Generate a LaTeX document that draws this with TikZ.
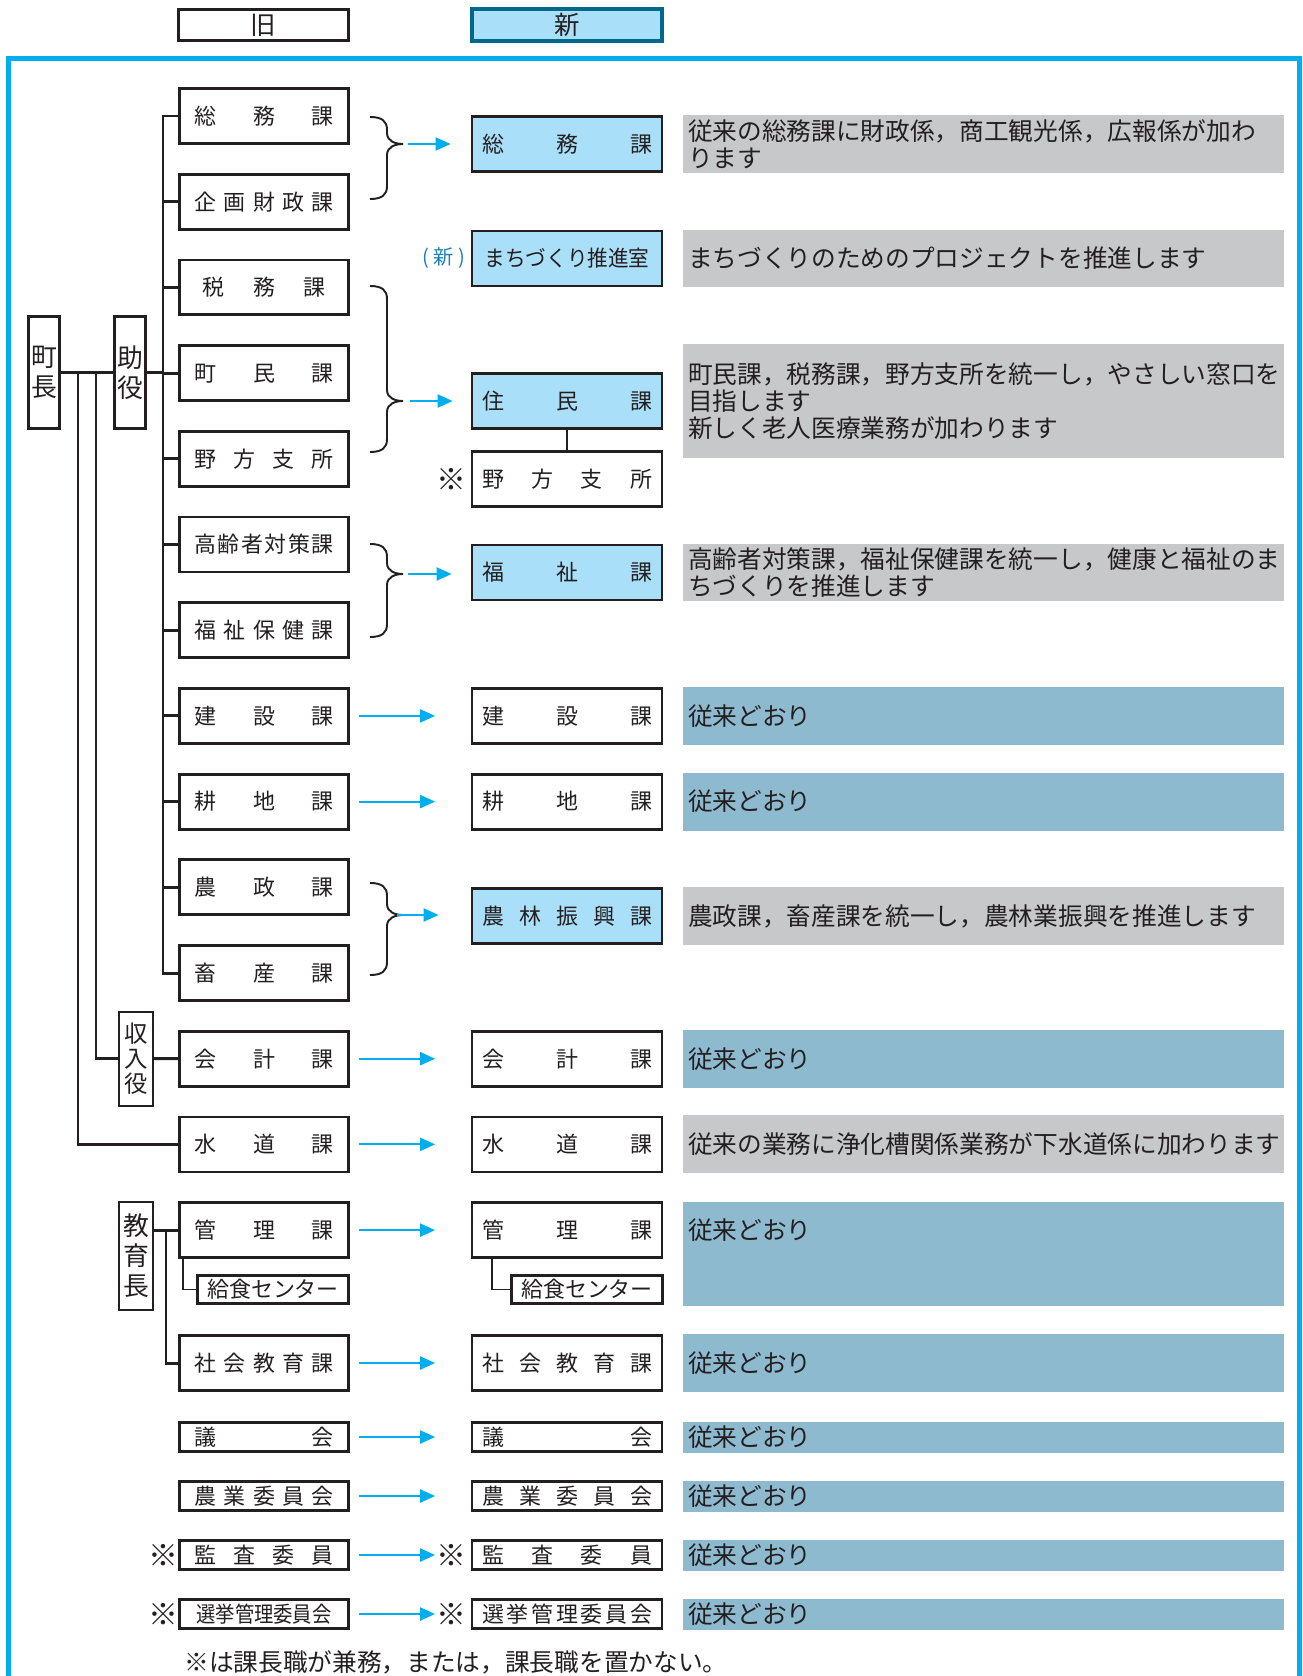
\documentclass[tikz,border=0pt]{standalone}
\usepackage{fontspec}
\setmainfont{Noto Sans CJK JP}
\usepackage{graphicx}
\usetikzlibrary{arrows.meta}
\usetikzlibrary{calc}

\definecolor{framecyan}{RGB}{0,174,239}
\definecolor{newfill}{RGB}{170,223,249}
\definecolor{hdrteal}{RGB}{0,104,139}
\definecolor{descgrey}{RGB}{199,200,202}
\definecolor{descblue}{RGB}{142,186,208}
\definecolor{ink}{RGB}{35,31,32}
\definecolor{shinblue}{RGB}{27,128,184}

\newcommand\labfont{\fontsize{12.5pt}{14pt}\selectfont}
\newcommand\descfont{\fontsize{14.05pt}{15.3pt}\selectfont}
\newcommand\headfont{\fontsize{14.5pt}{16pt}\selectfont}
\newcommand\chieffont{\fontsize{14.7pt}{17pt}\selectfont}
\newcommand\olab[1]{\makebox[2.78cm]{#1}}
\newcommand\nlab[1]{\makebox[3.4cm]{#1}}
% brace: top, tip, bottom, name of tip
\newcommand\grp[4]{%
	\draw[brc] (370,#1) .. controls (382,#1) and (387,#1+4) .. (387,#1+13)
		-- (387,#2-11) .. controls (387,#2-3) and (395,#2) .. (403,#2)
		.. controls (395,#2) and (387,#2+3) .. (387,#2+11)
		-- (387,#3-13) .. controls (387,#3-4) and (382,#3) .. (370,#3);
	\coordinate (#4) at (403,#2);}

\begin{document}
\begin{tikzpicture}[x=0.02cm, y=-0.02cm, >/.tip={Triangle[length=8.5pt,width=7.4pt]},
	box/.style={draw=ink, line width=1.6pt, inner sep=0pt, text=ink, font=\labfont},
	oldbox/.style={box, minimum width=3.38cm, minimum height=1.1cm},
	newbox/.style={box, minimum width=3.8cm, minimum height=1.1cm},
	fresh/.style={newbox, fill=newfill},
	slim/.style={minimum height=0.58cm},
	chief/.style={draw=ink, line width=1.8pt, inner sep=0pt, minimum width=0.62cm, minimum height=2.24cm, align=center, font=\chieffont, text=ink},
	desc/.style={inner xsep=0.1cm, inner ysep=0pt, text width=11.82cm, align=left, minimum height=1.16cm, font=\descfont, text=ink},
	changed/.style={desc, fill=descgrey},
	kept/.style={desc, fill=descblue},
	conn/.style={draw=ink, line width=1.7pt},
	thinline/.style={draw=ink, line width=1.1pt},
	brc/.style={draw=ink, line width=1.1pt},
	arr/.style={->, draw=framecyan, line width=1.1pt},
	kome/.style={font=\fontsize{17pt}{18pt}\selectfont, text=ink, inner sep=0pt}]
\useasboundingbox (0,0) rectangle (1302,1676);
\draw[framecyan, line width=2.8pt] (8.5,1676) -- (8.5,58.5) -- (1299.5,58.5) -- (1299.5,1676);

% headings
\node[box, minimum width=3.4cm, minimum height=0.62cm, font=\headfont] (kyu) at (263.5,25) {旧};
\node[box, draw=hdrteal, fill=newfill, line width=2.5pt, minimum width=3.8cm, minimum height=0.63cm, font=\headfont] (shin) at (567,25) {新};

% old organisation
\foreach \n/\t [count=\i from 0] in {soumu/\olab{総\hfill 務\hfill 課}, kikaku/\olab{企\hfill 画\hfill 財\hfill 政\hfill 課},
	zeimu/\makebox[2.46cm]{税\hfill 務\hfill 課}, choumin/\olab{町\hfill 民\hfill 課}, nogata/\olab{野\hfill 方\hfill 支\hfill 所},
	koureisha/\olab{高\hfill 齢\hfill 者\hfill 対\hfill 策\hfill 課}, fukushi/\olab{福\hfill 祉\hfill 保\hfill 健\hfill 課},
	kensetsu/\olab{建\hfill 設\hfill 課}, kouchi/\olab{耕\hfill 地\hfill 課}, nousei/\olab{農\hfill 政\hfill 課},
	chikusan/\olab{畜\hfill 産\hfill 課}, kaikei/\olab{会\hfill 計\hfill 課}, suidou/\olab{水\hfill 道\hfill 課},
	kanri/\olab{管\hfill 理\hfill 課}} {
	\node[oldbox] (\n) at (264,116+85.7*\i) {\t};
}
\node[box, minimum width=3.02cm, minimum height=0.56cm] (kyushoku) at (273,1289.5) {給食センター};
\node[oldbox] (shakai) at (264,1363) {\olab{社\hfill 会\hfill 教\hfill 育\hfill 課}};
\node[oldbox, slim] (gikai) at (264,1437) {\olab{議\hfill 会}};
\node[oldbox, slim] (nouiin) at (264,1496) {\olab{農\hfill 業\hfill 委\hfill 員\hfill 会}};
\node[oldbox, slim] (kansa) at (264,1555) {\olab{監\hfill 査\hfill 委\hfill 員}};
\node[oldbox, slim] (senkyo) at (264,1614) {\scalebox{0.88}[1]{選挙管理委員会}};
\node[kome] (k1) at ($(kansa.west)+(-15,0)$) {※};
\node[kome] (k2) at ($(senkyo.west)+(-15,0)$) {※};

\node[chief] (chouchou) at (44,372.5) {町\\長};
\node[chief] (joyaku) at (130,372.5) {助\\役};
\node[chief, line width=1.2pt, minimum width=0.68cm, minimum height=1.88cm, font=\fontsize{13.3pt}{14.2pt}\selectfont] (shunyu) at (136,1058.7) {収\\入\\役};
\node[chief, line width=1.2pt, minimum width=0.68cm, minimum height=2.16cm] (kyouiku) at (136,1256) {教\\育\\長};

% lines of the old organisation
\coordinate (t) at (163,0);
\coordinate (v1) at (78,0);
\coordinate (v2) at (96,0);
\coordinate (v3) at (166,0);
\coordinate (v4) at (183,0);
\draw[conn] (chouchou) -- (joyaku);
\draw[conn] (joyaku) -- (joyaku -| t);
\draw[conn] (soumu.west) -- (soumu.west -| t) -- (chikusan.west -| t) -- (chikusan.west);
\foreach \n in {kikaku,zeimu,choumin,nogata,koureisha,fukushi,kensetsu,kouchi,nousei}
	\draw[conn] (\n.west) -- (\n.west -| t);
\draw[conn] (chouchou.east -| v1) |- (suidou.west);
\draw[conn] (chouchou.east -| v2) |- (shunyu.west);
\draw[conn] (shunyu) -- (kaikei);
\draw[conn] (kanri.west -| kyouiku.east) -- (kanri.west);
\draw[conn] (kanri.west -| v3) |- (shakai.west);
\draw[thinline] (kanri.south -| v4) |- (kyushoku.west);

% new organisation
\coordinate (nx) at (567,0);
\node[fresh] (nsoumu) at (567,144) {\nlab{総\hfill 務\hfill 課}};
\node[fresh] (nmachi) at (567,258.5) {\scalebox{0.94}[1]{まちづくり推進室}};
\node[fresh] (njumin) at (567,401) {\nlab{住\hfill 民\hfill 課}};
\node[newbox] (nnogata) at (567,479) {\nlab{野\hfill 方\hfill 支\hfill 所}};
\node[fresh] (nfukushi) at (567,572.5) {\nlab{福\hfill 祉\hfill 課}};
\node[newbox] (nkensetsu) at (kensetsu -| nx) {\nlab{建\hfill 設\hfill 課}};
\node[newbox] (nkouchi) at (kouchi -| nx) {\nlab{耕\hfill 地\hfill 課}};
\node[fresh] (nnourin) at (567,916) {\nlab{農\hfill 林\hfill 振\hfill 興\hfill 課}};
\node[newbox] (nkaikei) at (kaikei -| nx) {\nlab{会\hfill 計\hfill 課}};
\node[newbox] (nsuidou) at (suidou -| nx) {\nlab{水\hfill 道\hfill 課}};
\node[newbox] (nkanri) at (kanri -| nx) {\nlab{管\hfill 理\hfill 課}};
\node[box, minimum width=3.02cm, minimum height=0.56cm] (nkyushoku) at (587,1289.5) {給食センター};
\node[newbox] (nshakai) at (shakai -| nx) {\nlab{社\hfill 会\hfill 教\hfill 育\hfill 課}};
\node[newbox, slim] (ngikai) at (gikai -| nx) {\nlab{議\hfill 会}};
\node[newbox, slim] (nnouiin) at (nouiin -| nx) {\nlab{農\hfill 業\hfill 委\hfill 員\hfill 会}};
\node[newbox, slim] (nkansa) at (kansa -| nx) {\nlab{監\hfill 査\hfill 委\hfill 員}};
\node[newbox, slim] (nsenkyo) at (senkyo -| nx) {\nlab{選\hfill 挙\hfill 管\hfill 理\hfill 委\hfill 員\hfill 会}};
\node[font=\fontsize{11.5pt}{12pt}\selectfont, text=shinblue, inner sep=0pt] (shinmark) at ($(nmachi.west)+(-27,0)$) {( 新 )};
\node[kome] (k3) at ($(nnogata.west)+(-19.5,0)$) {※};
\node[kome] (k4) at ($(nkansa.west)+(-19.5,0)$) {※};
\node[kome] (k5) at ($(nsenkyo.west)+(-19.5,0)$) {※};
\coordinate (v5) at (492,0);
\draw[thinline] (njumin) -- (nnogata);
\draw[thinline] (nkanri.south -| v5) |- (nkyushoku.west);

% braces and arrows
\grp{117}{144}{199}{b1}
\grp{286}{401}{452}{b2}
\grp{544}{574}{637}{b3}
\grp{883}{915}{975}{b4}
\draw[arr] ($(b1)+(5,0)$) -- ($(b1 -| nsoumu.west)+(-20,0)$);
\draw[arr] ($(b2)+(7,0)$) -- ($(b2 -| njumin.west)+(-18,0)$);
\draw[arr] ($(b3)+(5,0)$) -- ($(b3 -| nfukushi.west)+(-19,0)$);
\draw[arr] ($(b4)+(-6,0)$) -- ($(b4 -| nnourin.west)+(-32,0)$);
\foreach \a/\b in {kensetsu/nkensetsu, kouchi/nkouchi, kaikei/nkaikei, suidou/nsuidou, kanri/nkanri,
	shakai/nshakai, gikai/ngikai, nouiin/nnouiin, kansa/nkansa, senkyo/nsenkyo}
	\draw[arr] ($(\a.east)+(9.5,0)$) -- ($(\b.west)+(-35.5,0)$);

% notes
\coordinate (dx) at (983.5,0);
\node[changed] (dsoumu) at (nsoumu -| dx) {従来の総務課に財政係，商工観光係，広報係が加わ\\ります};
\node[changed] (dmachi) at (nmachi -| dx) {まちづくりのためのプロジェクトを推進します};
\node[changed, minimum height=2.28cm] (djumin) at (njumin -| dx) {町民課，税務課，野方支所を統一し，やさしい窓口を\\目指します\\新しく老人医療業務が加わります};
\node[changed] (dfukushi) at (nfukushi -| dx) {高齢者対策課，福祉保健課を統一し，健康と福祉のま\\ちづくりを推進します};
\node[kept] (dkensetsu) at (nkensetsu -| dx) {従来どおり};
\node[kept] (dkouchi) at (nkouchi -| dx) {従来どおり};
\node[changed] (dnourin) at (nnourin -| dx) {農政課，畜産課を統一し，農林業振興を推進します};
\node[kept] (dkaikei) at (nkaikei -| dx) {従来どおり};
\node[changed] (dsuidou) at (nsuidou -| dx) {従来の業務に浄化槽関係業務が下水道係に加わります};
\node[kept, minimum height=2.08cm] (dkanri) at (983.5,1254) {};
\node[font=\descfont, text=ink, anchor=west, inner xsep=0.1cm, inner ysep=0pt] (tkanri) at (nkanri -| dkanri.west) {従来どおり};
\node[kept] (dshakai) at (nshakai -| dx) {従来どおり};
\node[kept, minimum height=0.62cm] (dgikai) at (ngikai -| dx) {従来どおり};
\node[kept, minimum height=0.62cm] (dnouiin) at (nnouiin -| dx) {従来どおり};
\node[kept, minimum height=0.62cm] (dkansa) at (nkansa -| dx) {従来どおり};
\node[kept, minimum height=0.62cm] (dsenkyo) at (nsenkyo -| dx) {従来どおり};

\node[font=\descfont, text=ink, anchor=west, inner sep=0pt] (note) at (184,1662) {※は課長職が兼務，または，課長職を置かない。};
\end{tikzpicture}
\end{document}
